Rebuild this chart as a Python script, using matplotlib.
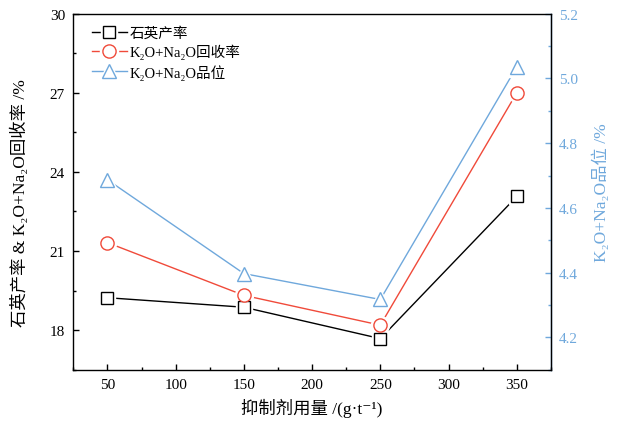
import numpy as np
import matplotlib
matplotlib.use('Agg')
import matplotlib.pyplot as plt
from matplotlib.ticker import MultipleLocator
from matplotlib.legend_handler import HandlerTuple

plt.rcParams.update({
    'font.family': ['Liberation Serif', 'Noto Sans CJK SC', 'DejaVu Serif'],
    'font.size': 10,
    'xtick.direction': 'in',
    'ytick.direction': 'in',
    'axes.linewidth': 1.0,
})

# 抑制剂用量 g/t
dosage = [50, 150, 250, 350]
quartz_yield = [19.23, 18.87, 17.68, 23.07]      # 石英产率 %
recovery = [21.32, 19.32, 18.19, 27.0]           # K2O+Na2O回收率 %
grade = [4.687, 4.397, 4.317, 5.036]             # K2O+Na2O品位 %

c_black = '#000000'
c_red = '#f04a3a'
c_blue = '#6fa8dc'


def draw(ax, x, y, color, marker, ms):
    # white halo under the marker leaves a small gap in the line (Origin look)
    l1, = ax.plot(x, y, color=color, lw=1.0, zorder=2)
    l2, = ax.plot(x, y, ls='none', marker=marker, ms=ms + 3.5, mfc='white', mec='white', zorder=3)
    l3, = ax.plot(x, y, ls='none', marker=marker, ms=ms, mfc='white', mec=color, mew=1.0, zorder=4)
    return (l1, l2, l3)


fig = plt.figure(figsize=(6.19, 4.27), dpi=100)
ax1 = fig.add_axes([0.1184, 0.1318, 0.7716, 0.8338])
ax2 = ax1.twinx()
ax1.set_zorder(ax2.get_zorder() + 1)
ax1.patch.set_visible(False)

h1 = draw(ax1, dosage, quartz_yield, c_black, 's', 8.5)
h2 = draw(ax1, dosage, recovery, c_red, 'o', 9.5)
h3 = draw(ax2, dosage, grade, c_blue, '^', 10.5)

ax1.set_xlim(25, 375)
ax1.set_ylim(16.5, 30)
ax2.set_ylim(4.1, 5.2)

ax1.xaxis.set_major_locator(MultipleLocator(50))
ax1.xaxis.set_minor_locator(MultipleLocator(25))
ax1.yaxis.set_major_locator(MultipleLocator(3))
ax1.yaxis.set_minor_locator(MultipleLocator(1.5))
ax2.yaxis.set_major_locator(MultipleLocator(0.2))
ax2.yaxis.set_minor_locator(MultipleLocator(0.1))
ax2.yaxis.set_major_formatter(plt.FormatStrFormatter('%.1f'))

ax1.tick_params(which='major', length=4, width=1.0, labelsize=11, pad=6)
ax1.tick_params(which='minor', length=2.5, width=1.0)
ax2.tick_params(which='major', length=4, width=1.0, colors=c_blue, labelsize=11, pad=6)
ax2.tick_params(which='minor', length=2.5, width=1.0, colors=c_blue)
ax2.spines['right'].set_color(c_blue)
for s in ['left', 'top', 'bottom']:
    ax2.spines[s].set_visible(False)

ax1.set_xlabel('抑制剂用量 /(g·t⁻¹)', fontsize=12.5, labelpad=5)
ax1.set_ylabel('石英产率 & K₂O+Na₂O回收率 /%', fontsize=12.5)
ax1.yaxis.set_label_coords(-0.093, 0.47)
ax2.set_ylabel('K₂O+Na₂O品位 /%', fontsize=12.5, color=c_blue)
ax2.yaxis.set_label_coords(1.088, 0.50)

ax1.legend([h1, h2, h3], ['石英产率', 'K₂O+Na₂O回收率', 'K₂O+Na₂O品位'],
           handler_map={tuple: HandlerTuple(ndivide=1)},
           loc='upper left', frameon=False, fontsize=10.5,
           handlelength=2.4, handletextpad=0.2, labelspacing=0.3,
           borderaxespad=0.2, bbox_to_anchor=(0.02, 0.99))

fig.savefig('out.png', dpi=100)
